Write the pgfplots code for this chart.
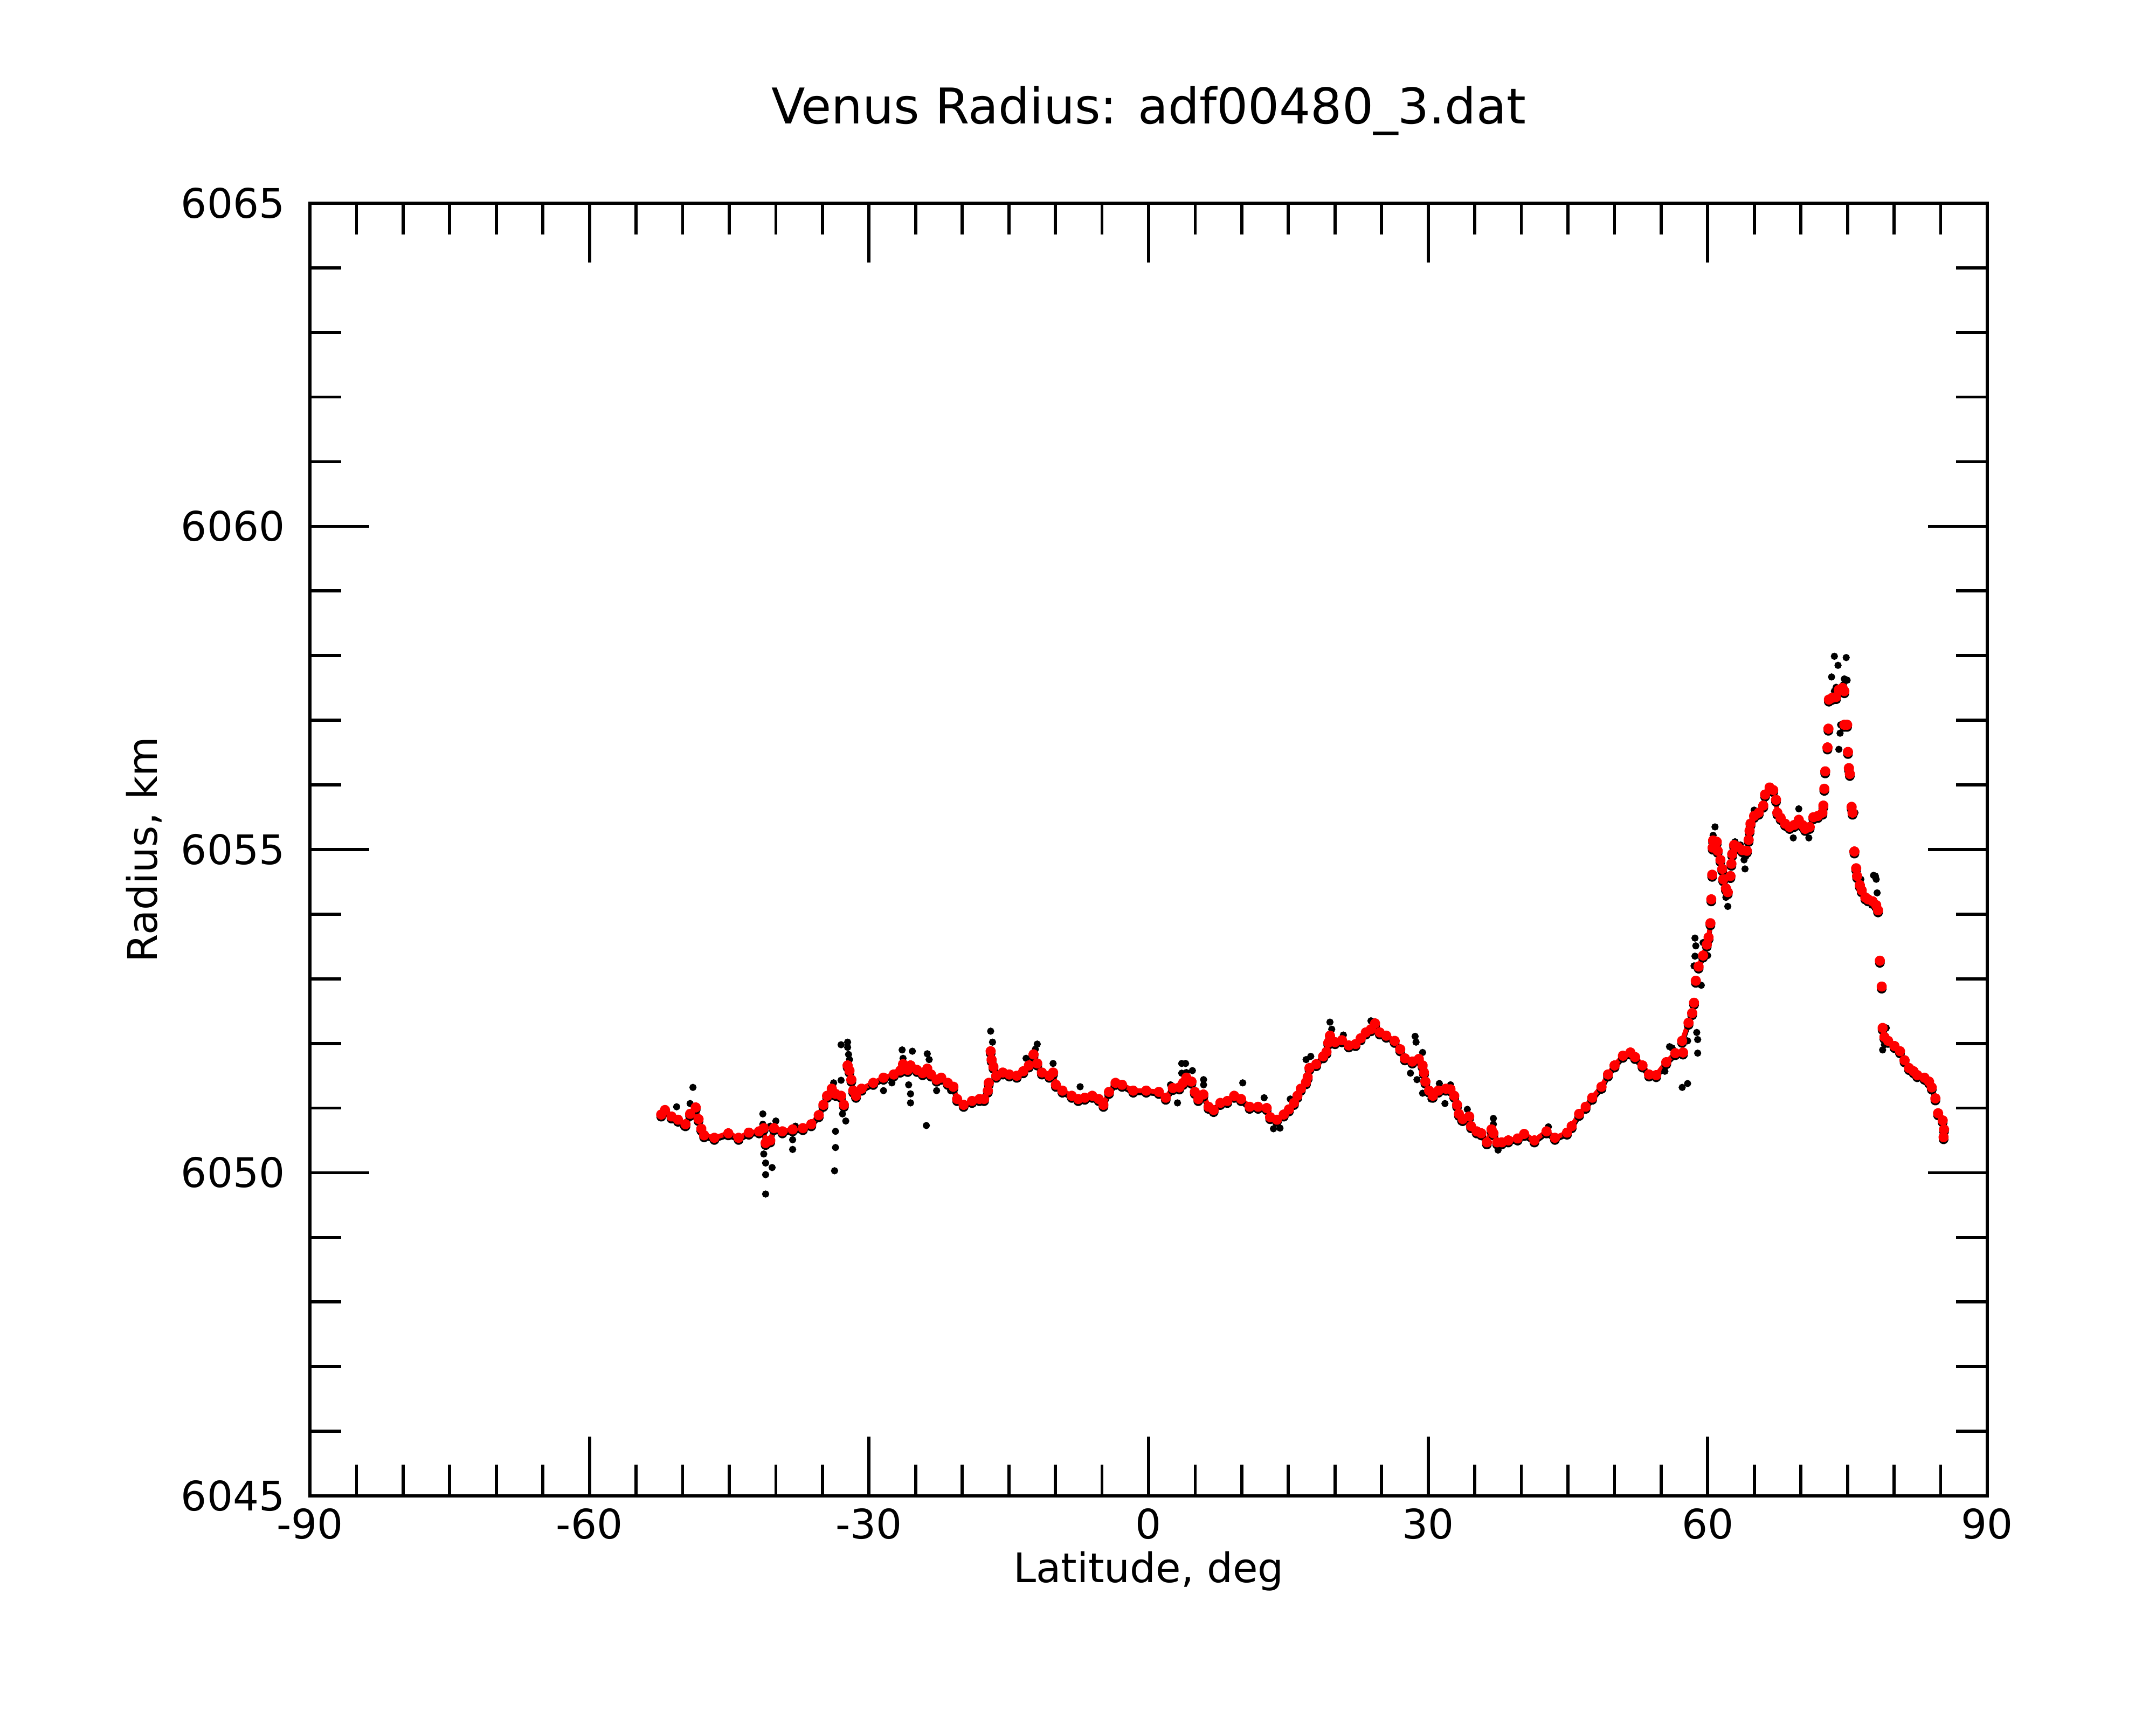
\documentclass[border=0pt]{standalone}
\usepackage{fontspec}
\setmainfont{DejaVu Sans}
\usepackage{pgfplots}
\usepackage{pgfplotstable}
\pgfplotsset{compat=1.18}

% smoothed radius (red); nan rows break the connecting band where the dots are sparse
\pgfplotstableread{
lat r
-52.3 6050.90
-51.9 6050.97
-51.2 6050.87
-50.5 6050.82
-49.7 6050.75
-49.2 6050.91
-48.6 6051.01
-48.3 6050.83
-48.0 6050.68
-47.7 6050.58
-46.6 6050.54
-45.1 6050.61
-44.0 6050.54
-42.9 6050.62
-41.8 6050.64
-41.3 6050.69
-41.1 6050.46
-40.6 6050.50
-40.2 6050.69
-39.3 6050.64
-38.2 6050.67
-37.1 6050.69
-36.2 6050.75
-35.4 6050.89
-34.9 6051.05
-34.5 6051.19
-34.0 6051.30
-33.6 6051.22
-33.0 6051.19
-32.7 6051.05
nan nan
-32.3 6051.66
-32.1 6051.58
-31.9 6051.44
-31.7 6051.27
-31.4 6051.19
-30.8 6051.30
-29.55 6051.39
-28.45 6051.47
-27.35 6051.52
-26.65 6051.58
-26.35 6051.68
-25.85 6051.59
-25.55 6051.66
-24.85 6051.59
-24.25 6051.54
-23.75 6051.61
-23.35 6051.52
-22.75 6051.44
-22.25 6051.47
-21.55 6051.39
-20.95 6051.33
-20.55 6051.14
-19.85 6051.05
-18.95 6051.11
-18.15 6051.14
-17.65 6051.14
-17.25 6051.27
-17.15 6051.39
nan nan
-16.95 6051.88
nan nan
-16.85 6051.75
-16.65 6051.64
-16.35 6051.50
-15.65 6051.55
-14.95 6051.52
-14.15 6051.50
-13.45 6051.57
-12.85 6051.66
-12.35 6051.83
-11.95 6051.69
-11.45 6051.55
-10.65 6051.50
-10.25 6051.55
-9.95 6051.36
-9.25 6051.27
-8.25 6051.19
-7.55 6051.14
-6.85 6051.16
-6.05 6051.19
-5.35 6051.14
-4.85 6051.05
-4.25 6051.25
-3.55 6051.39
-2.85 6051.36
-1.65 6051.27
-0.25 6051.27
1.1 6051.25
1.84 6051.16
2.6 6051.31
3.3 6051.32
3.7 6051.39
4.05 6051.47
4.6 6051.41
4.96 6051.25
5.33 6051.14
5.88 6051.21
6.43 6051.02
6.98 6050.97
7.7 6051.08
8.45 6051.11
9.18 6051.19
9.92 6051.14
10.84 6051.02
11.75 6051.02
12.67 6051.00
13.04 6050.86
13.77 6050.82
14.5 6050.90
15.06 6050.98
15.6 6051.08
15.97 6051.19
16.34 6051.30
16.89 6051.40
17.07 6051.48
17.26 6051.62
17.99 6051.68
18.73 6051.80
19.09 6051.87
19.28 6052.01
19.46 6052.12
20.01 6052.02
20.75 6052.05
21.48 6051.97
22.21 6051.99
22.76 6052.08
23.31 6052.17
23.86 6052.22
24.3 6052.31
24.8 6052.17
25.5 6052.12
26.4 6052.04
27.0 6051.91
27.5 6051.77
28.3 6051.72
29.0 6051.76
29.4 6051.66
29.55 6051.55
29.7 6051.41
30.1 6051.27
30.5 6051.19
31.1 6051.27
31.9 6051.30
32.4 6051.29
32.8 6051.19
33.1 6051.05
33.3 6050.91
33.7 6050.83
34.4 6050.87
34.6 6050.72
35.2 6050.64
35.7 6050.61
36.3 6050.47
36.8 6050.67
37.0 6050.61
37.4 6050.47
37.9 6050.47
38.6 6050.50
39.6 6050.53
40.3 6050.60
41.4 6050.50
42.7 6050.64
43.6 6050.54
44.9 6050.62
45.4 6050.72
46.2 6050.91
46.9 6051.02
47.6 6051.16
48.6 6051.33
49.3 6051.52
50.0 6051.66
50.9 6051.81
51.7 6051.86
52.2 6051.79
53.0 6051.66
53.7 6051.52
54.47 6051.51
55.55 6051.71
56.52 6051.85
57.35 6051.86
nan nan
57.25 6052.04
57.94 6052.32
58.33 6052.47
58.53 6052.63
nan nan
58.72 6052.97
nan nan
59.02 6053.19
59.5 6053.36
59.9 6053.53
60.09 6053.64
60.29 6053.86
nan nan
60.38 6054.23
nan nan
60.48 6054.61
nan nan
60.53 6055.03
60.58 6055.14
60.97 6055.12
61.07 6054.98
nan nan
61.36 6054.84
nan nan
61.56 6054.70
nan nan
61.66 6054.54
nan nan
61.95 6054.40
62.15 6054.34
nan nan
62.44 6054.59
nan nan
62.54 6054.78
nan nan
62.63 6054.93
62.83 6055.07
63.22 6055.04
63.71 6054.99
64.2 6054.98
nan nan
64.39 6055.15
nan nan
64.49 6055.29
nan nan
64.59 6055.40
64.98 6055.52
65.47 6055.57
65.96 6055.68
66.15 6055.85
66.64 6055.96
67.03 6055.92
67.33 6055.77
67.47 6055.57
67.82 6055.49
68.3 6055.40
68.79 6055.35
69.28 6055.38
69.77 6055.46
70.16 6055.38
70.45 6055.32
70.94 6055.35
71.34 6055.50
71.82 6055.52
72.31 6055.57
72.41 6055.68
nan nan
72.51 6055.94
nan nan
72.61 6056.21
nan nan
72.85 6056.58
nan nan
72.95 6056.87
nan nan
73.0 6057.32
73.39 6057.35
73.78 6057.36
74.07 6057.47
74.47 6057.50
74.66 6057.45
nan nan
74.66 6056.93
74.96 6056.93
nan nan
75.05 6056.51
nan nan
75.15 6056.26
75.25 6056.17
nan nan
75.44 6055.66
75.54 6055.57
nan nan
75.74 6054.97
nan nan
75.93 6054.71
76.03 6054.59
76.32 6054.45
76.52 6054.37
76.91 6054.26
77.2 6054.23
77.69 6054.20
78.08 6054.14
78.28 6054.06
nan nan
78.47 6053.28
nan nan
78.67 6052.88
nan nan
78.77 6052.24
78.96 6052.10
79.36 6052.04
80.04 6051.96
80.63 6051.88
81.12 6051.74
81.6 6051.62
82.09 6051.57
82.48 6051.51
83.26 6051.47
83.75 6051.41
84.04 6051.32
84.43 6051.15
nan nan
84.72 6050.92
85.21 6050.81
85.36 6050.67
85.31 6050.55
}\smoothed

% raw radius points that stand off the smoothed curve (black)
\pgfplotstableread{
lat r
-50.65 6051.02
-49.2 6051.07
-49.9 6050.71
-48.9 6051.32
-41.4 6050.91
-41.4 6050.75
-41.3 6050.29
-41.1 6050.15
-40.4 6050.08
-41.1 6049.97
-41.1 6049.67
-40.0 6050.80
-40.6 6050.72
-38.2 6050.36
-38.2 6050.51
-37.9 6050.72
-33.8 6051.39
-33.0 6051.43
-33.6 6050.64
-33.6 6050.39
-33.7 6050.03
-33.0 6051.98
-32.3 6052.02
-32.3 6051.94
-32.2 6051.83
-32.1 6051.75
-32.85 6050.91
-32.5 6050.80
-26.45 6051.90
-26.35 6051.77
-25.35 6051.88
-25.75 6051.36
-25.55 6051.22
-25.55 6051.08
-23.75 6051.84
-23.55 6051.75
-23.85 6050.73
-22.75 6051.27
-21.25 6051.27
-27.55 6051.39
-28.45 6051.27
-16.95 6052.19
-16.75 6052.02
-13.15 6051.77
-11.95 6051.99
-12.15 6051.91
-10.25 6051.69
-9.75 6051.33
-7.35 6051.33
-4.75 6051.03
2.35 6051.36
3.1 6051.08
3.55 6051.69
3.55 6051.54
3.97 6051.69
4.05 6051.55
4.7 6051.58
5.9 6051.44
5.9 6051.36
10.1 6051.39
12.4 6051.16
13.4 6050.68
14.1 6050.69
15.2 6051.14
16.9 6051.75
17.4 6051.80
19.46 6052.33
19.65 6052.22
20.9 6052.13
23.86 6052.35
28.6 6052.11
28.7 6052.02
29.4 6051.86
28.1 6051.54
28.8 6051.44
29.4 6051.23
30.3 6051.14
31.2 6051.38
32.4 6051.36
31.8 6051.07
34.2 6050.98
33.5 6050.79
37.0 6050.84
37.0 6050.75
37.5 6050.35
42.9 6050.71
55.9 6051.95
55.4 6051.57
56.18 6051.93
57.26 6051.32
57.84 6051.38
57.84 6052.04
58.82 6052.17
58.92 6052.06
58.92 6051.85
58.63 6053.63
58.72 6053.51
58.63 6053.35
58.53 6053.20
59.31 6052.90
59.5 6053.56
59.99 6053.36
60.78 6055.35
60.58 6055.22
61.95 6054.26
62.15 6054.12
62.93 6055.12
63.51 6055.07
63.9 6054.84
64.0 6054.70
64.1 6054.90
64.98 6055.61
69.18 6055.18
69.77 6055.63
70.85 6055.18
73.59 6057.99
73.98 6057.85
74.86 6057.97
73.29 6057.67
74.66 6057.64
74.96 6057.62
73.78 6057.51
73.59 6057.45
73.88 6057.31
74.56 6057.55
74.26 6056.93
74.2 6056.80
74.07 6056.55
75.55 6055.60
75.8 6055.57
75.55 6054.97
76.43 6054.54
76.62 6054.38
77.79 6054.60
78.08 6054.54
78.18 6054.33
77.6 6054.14
77.99 6054.59
79.16 6052.24
78.96 6051.98
78.77 6051.90
85.41 6050.53
}\raw

\begin{document}
\begin{tikzpicture}
\path[use as bounding box] (-2.30cm,-1.70cm) rectangle (13.70cm,11.10cm);
\begin{axis}[
  at={(0,0)}, anchor=south west,
  scale only axis, width=12.448cm, height=9.592cm,
  xmin=-90, xmax=90, ymin=6045, ymax=6065,
  xtick={-90,-60,-30,0,30,60,90},
  xticklabels={-90,-60,-30,0,30,60,90},
  ytick={6045,6050,6055,6060,6065},
  yticklabels={6045,6050,6055,6060,6065},
  minor x tick num=5, minor y tick num=4,
  major tick length=0.44cm, minor tick length=0.232cm,
  tick style={line width=0.65pt, black},
  axis line style={line width=0.6pt},
  tick label style={font=\fontsize{8.6}{10}\selectfont},
  xticklabel style={anchor=base, yshift=-0.32cm, inner sep=0pt},
  yticklabel style={anchor=east, xshift=-0.18cm, inner sep=0pt},
  title={Venus Radius: adf00480\_3.dat},
  title style={at={(axis description cs:0.5,1)}, anchor=base, yshift=0.38cm, inner sep=0pt, font=\fontsize{10.4}{12}\selectfont},
  xlabel={Latitude, deg},
  xlabel style={at={(axis description cs:0.5,0)}, anchor=base, yshift=-0.644cm, inner sep=0pt, font=\fontsize{8.6}{10}\selectfont},
  ylabel={Radius, km},
  ylabel style={at={(axis description cs:0,0.5)}, anchor=base, yshift=1.132cm, inner sep=0pt, font=\fontsize{8.6}{10}\selectfont},
  unbounded coords=jump,
  clip=true,
]
\addplot[only marks, mark=*, mark size=0.55pt, black, mark options={draw=none, fill=black}] table[x=lat, y=r] {\raw};
\addplot[black, line width=1.0pt, yshift=-0.45pt, line join=round, line cap=round, mark=*, mark size=0.55pt, mark options={draw=none, fill=black}] table[x=lat, y=r] {\smoothed};
\addplot[red, line width=1.0pt, line join=round, line cap=round, mark=*, mark size=0.6pt, mark options={draw=none, fill=red}] table[x=lat, y=r] {\smoothed};
\end{axis}
\end{tikzpicture}
\end{document}
